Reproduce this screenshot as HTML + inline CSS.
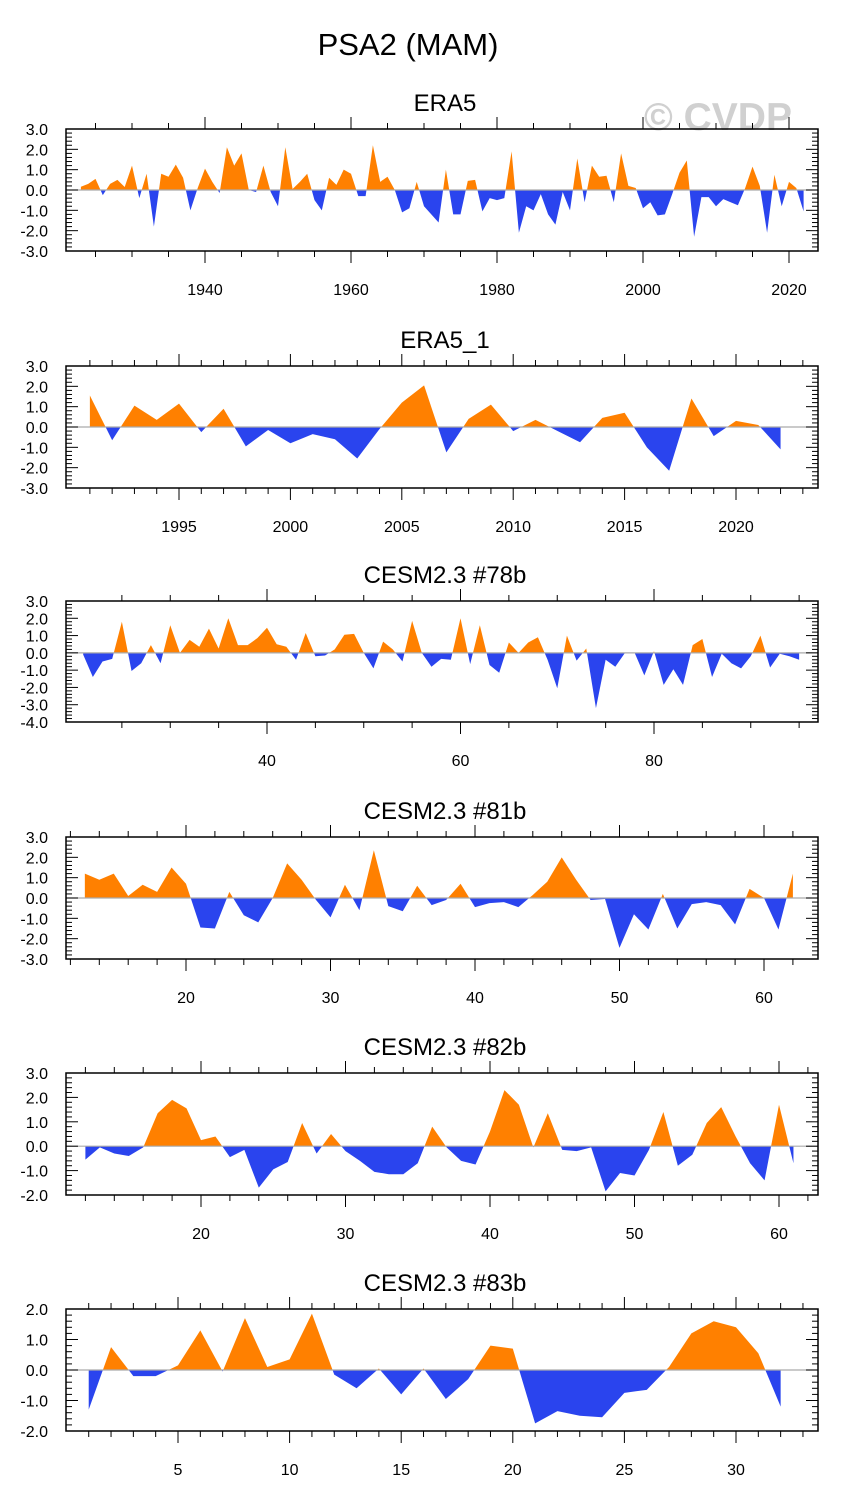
<!DOCTYPE html>
<html><head><meta charset="utf-8"><title>PSA2 (MAM)</title>
<style>
html,body{margin:0;padding:0;background:#fff;}
svg{display:block;font-family:"Liberation Sans",Arial,sans-serif;}
</style></head>
<body>
<svg id="fig" width="845" height="1506" viewBox="0 0 845 1506">
<text x="408" y="55" font-size="31" text-anchor="middle">PSA2 (MAM)</text>
<text x="718" y="130" font-size="39" font-weight="bold" fill="#d0d0d0" text-anchor="middle">© CVDP</text>
</svg>
<script>
// ---- data ----
const era5Start = 1923;
const era5Values = [0.16,0.3,0.55,-0.25,0.3,0.5,0.15,1.2,-0.4,0.8,-1.8,0.8,0.65,1.25,0.6,-1.0,0.1,1.05,0.4,-0.15,
2.1,1.2,1.8,0.0,-0.1,1.2,-0.1,-0.8,2.1,0.05,0.4,0.8,-0.5,-1.0,0.6,0.25,1.0,0.8,-0.3,-0.3,
2.2,0.4,0.65,0.0,-1.1,-0.9,0.4,-0.8,-1.2,-1.6,1.0,-1.2,-1.2,0.45,0.5,-1.05,-0.4,-0.5,-0.4,1.9,
-2.1,-0.8,-1.0,-0.2,-1.2,-1.7,-0.1,-1.0,1.55,-0.6,1.2,0.65,0.7,-0.6,1.8,0.2,0.1,-0.9,-0.6,-1.25,
-1.2,-0.2,0.85,1.45,-2.3,-0.35,-0.35,-0.8,-0.45,-0.6,-0.75,0.1,1.15,0.2,-2.1,0.75,-0.8,0.4,0.1,-1.05];
const era51Start = 1991;
const era51Values = [1.55,-0.65,1.05,0.35,1.15,-0.25,0.9,-0.95,-0.15,-0.8,-0.35,-0.6,-1.55,-0.1,1.2,2.05,
-1.25,0.4,1.1,-0.2,0.35,-0.2,-0.75,0.45,0.7,-1.0,-2.15,1.4,-0.45,0.3,0.1,-1.1];
const c78Start = 21;
const c78Values = [-0.1,-1.4,-0.5,-0.35,1.8,-1.05,-0.6,0.45,-0.6,1.6,0.0,0.75,0.35,1.4,0.25,2.0,0.45,0.45,0.85,1.45,
0.5,0.35,-0.4,1.15,-0.2,-0.15,0.2,1.05,1.1,0.0,-0.9,0.65,0.2,-0.5,1.85,0.0,-0.8,-0.35,-0.4,2.0,
-0.65,1.6,-0.7,-1.15,0.6,0.0,0.6,0.9,-0.4,-2.05,1.0,-0.45,0.25,-3.2,-0.4,-0.8,0.0,0.0,-1.3,0.1,
-1.85,-0.95,-1.85,0.45,0.8,-1.4,-0.05,-0.6,-0.9,-0.2,1.0,-0.85,-0.05,-0.2,-0.4];
const c81Start = 13;
const c81Values = [1.2,0.9,1.2,0.1,0.65,0.3,1.5,0.7,-1.45,-1.5,0.3,-0.85,-1.2,0.0,1.7,0.9,-0.1,-0.95,0.65,-0.6,
2.35,-0.4,-0.65,0.6,-0.35,-0.1,0.7,-0.45,-0.25,-0.2,-0.45,0.15,0.8,2.0,0.9,-0.1,-0.05,-2.45,-0.8,-1.55,
0.2,-1.5,-0.3,-0.2,-0.35,-1.3,0.45,0.0,-1.55,1.2];
const c82Start = 12;
const c82Values = [-0.55,-0.05,-0.3,-0.4,-0.05,1.35,1.9,1.55,0.25,0.4,-0.45,-0.15,-1.7,-0.95,-0.65,0.95,-0.3,0.5,-0.2,-0.6,
-1.05,-1.15,-1.15,-0.7,0.8,-0.05,-0.6,-0.75,0.6,2.3,1.7,-0.05,1.35,-0.15,-0.2,-0.05,-1.85,-1.1,-1.2,-0.15,
1.4,-0.8,-0.35,0.95,1.6,0.4,-0.7,-1.4,1.7,-0.7];
const c83Start = 1;
const c83Values = [-1.3,0.75,-0.2,-0.2,0.15,1.3,-0.05,1.7,0.1,0.35,1.85,-0.15,-0.6,0.05,-0.8,0.05,-0.95,-0.3,0.8,0.7,
-1.75,-1.35,-1.5,-1.55,-0.75,-0.65,0.1,1.2,1.6,1.4,0.55,-1.2];

const panels = [
 {name:'era5', title:'ERA5', start:era5Start, vals:era5Values, xa:1940,pa:205,xb:2020,pb:789, lo:1921,hi:2024, major:20, minor:5, top:129,bot:251,ymax:3,ymin:-3},
 {name:'era5-1', title:'ERA5_1', start:era51Start, vals:era51Values, xa:1995,pa:179,xb:2020,pb:736, lo:1991,hi:2023.6, major:5, minor:1, top:366,bot:488,ymax:3,ymin:-3},
 {name:'cesm-78b', title:'CESM2.3 #78b', start:c78Start, vals:c78Values, xa:40,pa:267,xb:80,pb:654, lo:21,hi:97, major:20, minor:5, top:601,bot:722,ymax:3,ymin:-4},
 {name:'cesm-81b', title:'CESM2.3 #81b', start:c81Start, vals:c81Values, xa:20,pa:186,xb:60,pb:764, lo:12,hi:64, major:10, minor:2, top:837,bot:959,ymax:3,ymin:-3},
 {name:'cesm-82b', title:'CESM2.3 #82b', start:c82Start, vals:c82Values, xa:20,pa:201,xb:60,pb:779, lo:11,hi:63, major:10, minor:2, top:1073,bot:1195,ymax:3,ymin:-2},
 {name:'cesm-83b', title:'CESM2.3 #83b', start:c83Start, vals:c83Values, xa:5,pa:178,xb:30,pb:736, lo:1,hi:34, major:5, minor:1, top:1309,bot:1431,ymax:2,ymin:-2}
];

const NS='http://www.w3.org/2000/svg';
const svg=document.getElementById('fig');
const L=66,R=818;
function mk(tag,attrs,parent){const e=document.createElementNS(NS,tag);for(const k in attrs)e.setAttribute(k,attrs[k]);parent.appendChild(e);return e;}

panels.forEach(p=>{
  const g=mk('g',{},svg);
  
  
  const X=v=>p.pa+(v-p.xa)*(p.pb-p.pa)/(p.xb-p.xa);
  const Y=v=>p.top+(p.ymax-v)*(p.bot-p.top)/(p.ymax-p.ymin);
  const y0=Y(0);
  const t=mk('text',{x:445,y:p.top-18,'font-size':24,'text-anchor':'middle'},g);
  t.textContent=p.title;
  
  
  const pts=[];
  for(let i=0;i<p.vals.length;i++){
    const xv=p.start+i, v=p.vals[i];
    if(i>0){const pv=p.vals[i-1];
      if((pv>0&&v<0)||(pv<0&&v>0)){const f=pv/(pv-v);pts.push([X(xv-1+f),0]);}}
    pts.push([X(xv),v]);
  }
  const first=pts[0][0], last=pts[pts.length-1][0];
  function poly(fn){let d='M'+first+','+y0;pts.forEach(q=>{d+=' L'+q[0].toFixed(2)+','+Y(fn(q[1])).toFixed(2);});d+=' L'+last+','+y0+' Z';return d;}
  const pos=mk('path',{d:poly(v=>Math.max(v,0)),fill:'#ff8000',stroke:'none'},g);
  
  
  const neg=mk('path',{d:poly(v=>Math.min(v,0)),fill:'#2a44ee',stroke:'none'},g);
  
  
  const zl=mk('line',{x1:L,x2:R,y1:y0,y2:y0,stroke:'#aaaaaa','stroke-width':1.2},g);
  
  
  for(let v=p.ymin;v<=p.ymax+1e-9;v+=0.2){
    const yy=Y(v), maj=Math.abs(v-Math.round(v))<1e-6, len=maj?12:6;
    mk('line',{x1:L,x2:L+len,y1:yy,y2:yy,stroke:'#000','stroke-width':1},g);
    mk('line',{x1:R,x2:R-len,y1:yy,y2:yy,stroke:'#000','stroke-width':1},g);
    if(maj){const lb=mk('text',{x:48,y:yy+6,'font-size':16,'text-anchor':'end'},g);
      lb.textContent=Math.round(v).toFixed(1);
      
      }
  }
  const s=Math.ceil(p.lo/p.minor)*p.minor;
  for(let v=s;v<=p.hi;v+=p.minor){
    const xx=X(v); if(xx<L||xx>R) continue;
    const maj=(v%p.major)===0, len=maj?12:6;
    mk('line',{x1:xx,x2:xx,y1:p.bot,y2:p.bot+len,stroke:'#000','stroke-width':1},g);
    mk('line',{x1:xx,x2:xx,y1:p.top,y2:p.top-len,stroke:'#000','stroke-width':1},g);
    if(maj){const lb=mk('text',{x:xx,y:p.bot+44,'font-size':16,'text-anchor':'middle'},g);
      lb.textContent=String(v);
      
      }
  }
  const box=mk('rect',{x:L,y:p.top,width:R-L,height:p.bot-p.top,fill:'none',stroke:'#000','stroke-width':1.5},g);
  
  
});
</script>
</body></html>
